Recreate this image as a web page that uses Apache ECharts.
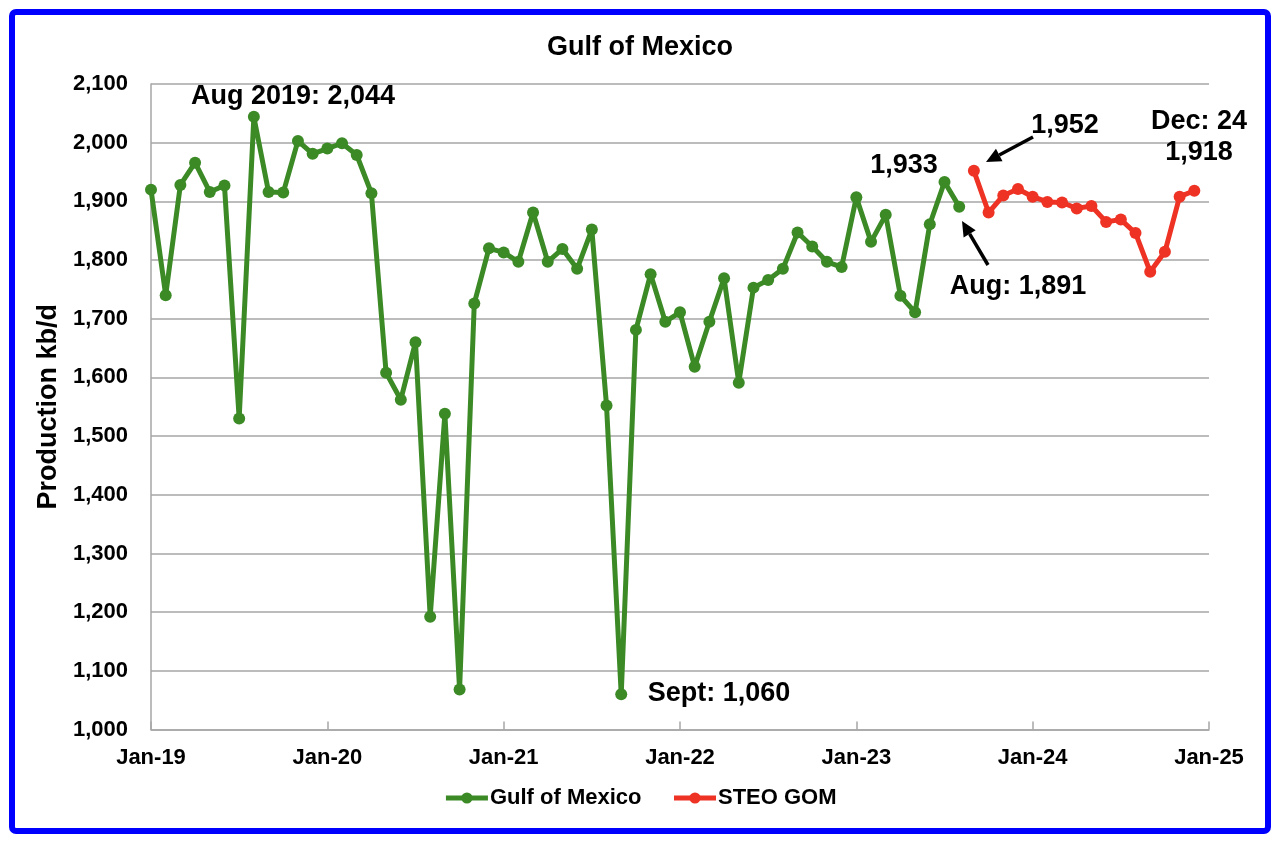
<!DOCTYPE html>
<html>
<head>
<meta charset="utf-8">
<script src="https://cdn.jsdelivr.net/npm/echarts@6/dist/echarts.min.js"></script>
<style>
  html, body { margin: 0; padding: 0; background: #ffffff; }
  #chart { width: 1280px; height: 845px; }
</style>
</head>
<body>
<div id="chart"></div>
<script>
// ---- Data ----
const monthNames = ['Jan','Feb','Mar','Apr','May','Jun','Jul','Aug','Sep','Oct','Nov','Dec'];
const years = ['19','20','21','22','23','24'];
const categories = [];
years.forEach(y => monthNames.forEach(m => categories.push(m + '-' + y)));
categories.push('Jan-25');

// Gulf of Mexico monthly production, Jan-19 .. Aug-23 (kb/d)
const gomValues = [
  1920, 1740, 1928, 1966, 1916, 1927, 1530, 2044, 1916, 1915, 2003, 1981,
  1990, 1999, 1979, 1914, 1608, 1562, 1660, 1192, 1538, 1068, 1726, 1820,
  1813, 1797, 1881, 1797, 1819, 1785, 1852, 1552, 1060, 1681, 1776, 1695,
  1711, 1618, 1695, 1769, 1591, 1753, 1766, 1785, 1847, 1823, 1797, 1788,
  1907, 1831, 1877, 1739, 1711, 1861, 1933, 1891
];
// STEO GOM forecast, Sep-23 .. Dec-24 (kb/d)
const steoValues = [
  1952, 1881, 1910, 1921, 1908, 1899, 1898, 1888, 1892, 1865, 1869, 1846,
  1780, 1814, 1908, 1918
];
const steoStart = gomValues.length;

const gomSeries = categories.map((c, i) => i < gomValues.length ? gomValues[i] : null);
const steoSeries = categories.map((c, i) => (i >= steoStart && i < steoStart + steoValues.length) ? steoValues[i - steoStart] : null);

const GREEN = '#3B8A26';
const RED = '#EE3224';
const FONT = '"Liberation Sans", Arial, sans-serif';

function arrow(x1, y1, x2, y2) {
  const ang = Math.atan2(y2 - y1, x2 - x1);
  const L = 15, W = 7;
  const bx = x2 - L * Math.cos(ang), by = y2 - L * Math.sin(ang);
  const px = -Math.sin(ang) * W, py = Math.cos(ang) * W;
  return [
    { type: 'line', shape: { x1: x1, y1: y1, x2: bx, y2: by }, style: { stroke: '#000', lineWidth: 3.5 }, z: 100 },
    { type: 'polygon', shape: { points: [[x2, y2], [bx + px, by + py], [bx - px, by - py]] }, style: { fill: '#000' }, z: 100 }
  ];
}

function label(text, x, y) {
  return { type: 'text', x: x, y: y, z: 100,
    style: { text: text, fill: '#000', font: 'bold 27px ' + FONT, textAlign: 'center', textVerticalAlign: 'middle' } };
}

const chart = echarts.init(document.getElementById('chart'));
chart.setOption({
  backgroundColor: '#ffffff',
  animation: false,
  title: {
    text: 'Gulf of Mexico', left: 'center', top: 29,
    textStyle: { fontFamily: FONT, fontWeight: 'bold', fontSize: 27, color: '#000' }
  },
  legend: {
    bottom: 31, left: 'center',
    itemWidth: 42, itemHeight: 14, itemGap: 30,
    textStyle: { fontFamily: FONT, fontWeight: 'bold', fontSize: 22, color: '#000', padding: [0, 0, 0, -3] },
    data: [
      { name: 'Gulf of Mexico', lineStyle: { width: 5 } },
      { name: 'STEO GOM', lineStyle: { width: 5 } }
    ]
  },
  grid: { left: 151, right: 71, top: 84, bottom: 115.5, containLabel: false },
  xAxis: {
    type: 'category', data: categories, boundaryGap: false,
    axisLine: { lineStyle: { color: '#A6A6A6', width: 1.5 } },
    axisTick: { inside: true, length: 8, interval: 11, lineStyle: { color: '#A6A6A6', width: 1.5 } },
    axisLabel: { interval: 11, margin: 17, color: '#000', fontFamily: FONT, fontWeight: 'bold', fontSize: 22 },
    splitLine: { show: false }
  },
  yAxis: {
    type: 'value', min: 1000, max: 2100, interval: 100,
    name: 'Production kb/d', nameLocation: 'middle', nameGap: 84, nameRotate: 90,
    nameTextStyle: { fontFamily: FONT, fontWeight: 'bold', fontSize: 27, color: '#000' },
    axisLine: { show: true, lineStyle: { color: '#A6A6A6', width: 1.5 } },
    axisTick: { show: false },
    axisLabel: { margin: 23, color: '#000', fontFamily: FONT, fontWeight: 'bold', fontSize: 22,
      formatter: v => v.toLocaleString('en-US') },
    splitLine: { lineStyle: { color: '#A6A6A6', width: 1.5 } }
  },
  series: [
    { name: 'Gulf of Mexico', type: 'line', data: gomSeries, connectNulls: false,
      symbol: 'circle', symbolSize: 12, showAllSymbol: true,
      lineStyle: { color: GREEN, width: 5 }, itemStyle: { color: GREEN } },
    { name: 'STEO GOM', type: 'line', data: steoSeries, connectNulls: false,
      symbol: 'circle', symbolSize: 12, showAllSymbol: true,
      lineStyle: { color: RED, width: 5 }, itemStyle: { color: RED } }
  ],
  graphic: [
    { type: 'rect', shape: { x: 12, y: 12, width: 1256, height: 819, r: 4 },
      style: { fill: 'none', stroke: '#0000FF', lineWidth: 6 }, z: 100 },
    label('Aug 2019: 2,044', 293, 97),
    label('1,933', 904, 166),
    label('1,952', 1065, 126),
    label('Aug: 1,891', 1018, 287),
    label('Dec: 24', 1199, 122),
    label('1,918', 1199, 153),
    label('Sept: 1,060', 719, 694),
    ...arrow(1033, 137, 986, 162),
    ...arrow(988, 265, 962, 221)
  ]
});
</script>
</body>
</html>
